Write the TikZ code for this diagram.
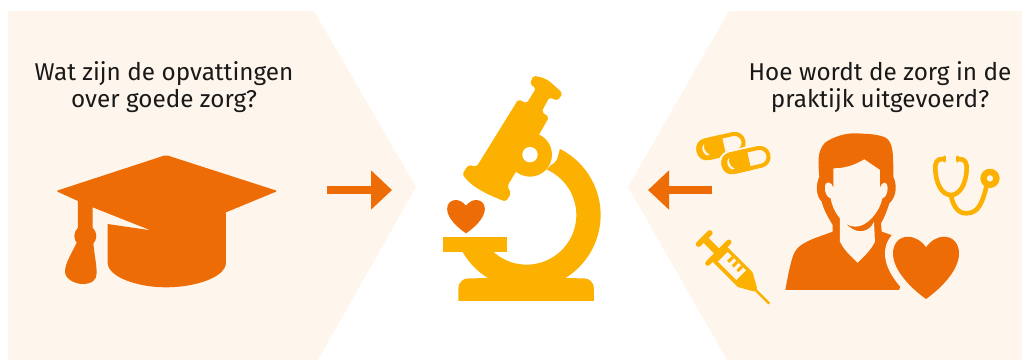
\documentclass[tikz,border=0pt]{standalone}
\usepackage{fontspec}
\setmainfont{Fira Sans}
\usetikzlibrary{arrows.meta}

\definecolor{cream}{HTML}{FEF6EC}
\definecolor{zorgorange}{HTML}{EE6C06}
\definecolor{zorgyellow}{HTML}{FCB000}

\tikzset{
  panel/.style={fill=cream},
  flowarrow/.style={draw=zorgorange, line width=8pt, -{Triangle[length=21pt,width=38pt]}},
  question/.style={align=center, text=black!90, font=\fontsize{24.3}{27}\selectfont, inner sep=0pt},
  zoomed/.style={x=0.3333pt, y=-0.3333pt}
}
\newcommand{\heartpath}{(0,17) .. controls (-8,5) and (-19,0) .. (-27,0)
  .. controls (-42,0) and (-50,12) .. (-50,27)
  .. controls (-50,55) and (-20,85) .. (0,100)
  .. controls (20,85) and (50,55) .. (50,27)
  .. controls (50,12) and (42,0) .. (27,0)
  .. controls (19,0) and (8,5) .. (0,17) -- cycle}

\begin{document}
\begin{tikzpicture}[x=1pt, y=-1pt, line cap=butt, line join=round]
  \useasboundingbox (0,0) rectangle (1022,360);

  %% ---- panels ----
  \fill[panel] (8,11) -- (314,11) -- (416,187) -- (318,360) -- (8,360) -- cycle;
  \fill[panel] (729,11) -- (1022,11) -- (1022,360) -- (727,360) -- (628,187) -- cycle;

  %% ---- questions ----
  \node[question] (opvattingen) at (164,87) {Wat zijn de opvattingen\\over goede zorg?};
  \node[question] (praktijk) at (880,87) {Hoe wordt de zorg in de\\praktijk uitgevoerd?};

  %% ---- arrows ----
  \draw[flowarrow] (327,190) -- (392,190);
  \draw[flowarrow] (712,190) -- (648,190);

  %% ---- graduation cap ----
  \begin{scope}[shift={(30,130)}, zoomed]
    \fill[zorgorange, rounded corners=2pt] (78,183) -- (408,75) -- (743,183) -- (588,247) -- (400,300) -- (144,213) -- cycle;
    \fill[zorgorange] (588,240) -- (588,398) .. controls (588,440) and (500,472) .. (408,472)
      .. controls (320,472) and (233,440) .. (233,398) -- (233,282) -- (362,301) -- (188,232) -- (188,300) -- (144,300) -- (144,205)
      -- (300,200) -- cycle;
    \fill[zorgorange] (166,318) circle (11pt);
    \fill[zorgorange] (140,338) .. controls (125,370) and (105,400) .. (105,425)
      .. controls (105,447) and (135,462) .. (158,462) .. controls (185,462) and (200,450) .. (200,430)
      .. controls (200,400) and (192,370) .. (190,338) -- cycle;
  \end{scope}

  %% ---- microscope ----
  \begin{scope}[shift={(430,60)}, zoomed]
    \fill[zorgyellow] (85,723) [rounded corners=10pt] -- (85,655) -- (492,655) [sharp corners] -- (492,723) -- cycle;
    \fill[zorgyellow] (40,532) rectangle (232,577);
    \fill[zorgyellow] plot[domain=-63.4:150, samples=50] ({290+222*cos(\x)},{465+222*sin(\x)})
      -- plot[domain=131.8:-66.4, samples=50] ({290+149*cos(\x)},{465+149*sin(\x)})
      -- (362,316) .. controls (380,305) .. (390,265) -- cycle;
    \fill[zorgyellow] (140,655) rectangle (440,670);
    \fill[zorgyellow, rounded corners=2pt] (318,85) -- (300,72) -- (310,47) .. controls (350,55) .. (398,100) -- (383,122) -- (358,112)
      -- (335,155) -- (357,172) -- (328,222) -- (300,284) -- (258,335) -- (232,378) -- (243,400) -- (228,425)
      .. controls (160,400) and (120,375) .. (97,342) -- (115,315) -- (140,320) -- (265,118) -- (290,130) -- cycle;
    \fill[zorgyellow] (300,284) circle (22pt);
    \fill[white] (300,284) circle (7.7pt);
  \end{scope}
  \begin{scope}[shift={(466,200)}, x=0.377pt, y=-0.333pt]
    \fill[zorgorange] \heartpath;
  \end{scope}

  %% ---- pills ----
  \foreach \px/\py in {721/146, 746/160}{
    \begin{scope}[shift={(\px,\py)}, rotate=13]
      \fill[cream, rounded corners=13pt] (-28,-13) rectangle (28,13);
      \draw[zorgyellow, line width=4pt, rounded corners=9pt] (-23,-9) rectangle (23,9);
      \begin{scope}
        \clip (-26,-12) rectangle (3,12);
        \fill[zorgyellow, rounded corners=10pt] (-25,-11) rectangle (25,11);
      \end{scope}
      \fill[cream] (-16,6) .. controls (-20,2) and (-20,-3) .. (-16,-6) .. controls (-17.5,-2) and (-17.5,2) .. (-13,6) -- cycle;
    \end{scope}
  }

  %% ---- syringe ----
  \begin{scope}[shift={(718.3,252.7)}, rotate=-45]
    \draw[zorgyellow, line width=2.4pt] (50,0) -- (72,0);
    \fill[zorgyellow] (-21,-3.5) rectangle (2,3.5);
    \draw[zorgyellow, line width=5.5pt, line cap=round] (-20,-8) -- (-20,8);
    \draw[zorgyellow, line width=5pt, line cap=round] (0,-15) -- (0,15);
    \fill[zorgyellow, rounded corners=1pt] (0,-10.5) -- (38,-10.5) -- (53,-2) -- (53,2) -- (38,10.5) -- (0,10.5) -- cycle;
    \fill[cream] (6,-7) rectangle (32,6.5);
    \foreach \u in {12,18.5,25}{
      \fill[zorgyellow] (\u,-7) rectangle ({\u+3},-0.5);
    }
  \end{scope}

  %% ---- stethoscope ----
  \begin{scope}[shift={(925,145)}, zoomed]
    \draw[zorgyellow, line width=4.6pt] (78,150) .. controls (85,195) and (110,207) .. (125,205)
      .. controls (165,205) and (175,160) .. (185,122);
    \draw[zorgyellow, line width=4.6pt, line cap=round] (52,42) .. controls (35,42) and (30,52) .. (31,75)
      .. controls (33,115) and (50,150) .. (78,150) .. controls (105,150) and (123,115) .. (125,75)
      .. controls (126,52) and (120,42) .. (103,42);
    \draw[zorgyellow, line width=3.4pt, line cap=round] (59,36) -- (59,48);
    \draw[zorgyellow, line width=3.4pt, line cap=round] (97,36) -- (97,48);
    \draw[zorgyellow, line width=6.4pt] (195,100) circle (6.4pt);
  \end{scope}

  %% ---- person ----
  \begin{scope}[shift={(680,120)}, zoomed]
    \fill[zorgorange] (316,510) .. controls (325,460) and (335,410) .. (345,395) .. controls (360,365) and (420,350) .. (458,335)
      -- (458,315) .. controls (440,285) and (430,265) .. (425,245) .. controls (410,230) and (405,200) .. (418,170)
      .. controls (415,130) and (410,95) .. (435,68) .. controls (460,50) and (500,38) .. (530,40)
      .. controls (565,42) and (590,42) .. (615,52) .. controls (640,65) and (640,100) .. (640,170)
      .. controls (652,195) and (650,230) .. (628,250) .. controls (620,275) and (612,295) .. (603,310)
      -- (605,335) -- (640,347) -- (680,450) -- (657,510) -- cycle;
    %% face and ears
    \fill[cream] (460,145) .. controls (495,145) and (525,135) .. (553,118) -- (600,150) -- (600,203)
      .. controls (605,185) and (622,180) .. (623,205) .. controls (623,220) and (615,235) .. (607,235)
      .. controls (600,275) and (560,322) .. (525,320) .. controls (490,320) and (458,275) .. (452,235)
      .. controls (440,232) and (433,215) .. (435,200) .. controls (437,180) and (455,185) .. (460,203) -- cycle;
    %% neck
    \fill[cream] (480,290) -- (480,365) .. controls (495,395) and (515,410) .. (533,428) .. controls (550,410) and (570,395) .. (585,365)
      -- (582,305) .. controls (570,335) and (535,345) .. (505,318) -- cycle;
  \end{scope}
  \begin{scope}[shift={(926,236.7)}, x=0.66pt, y=-0.623pt]
    \draw[cream, line width=16pt] \heartpath;
    \fill[zorgorange] \heartpath;
  \end{scope}
\end{tikzpicture}
\end{document}
